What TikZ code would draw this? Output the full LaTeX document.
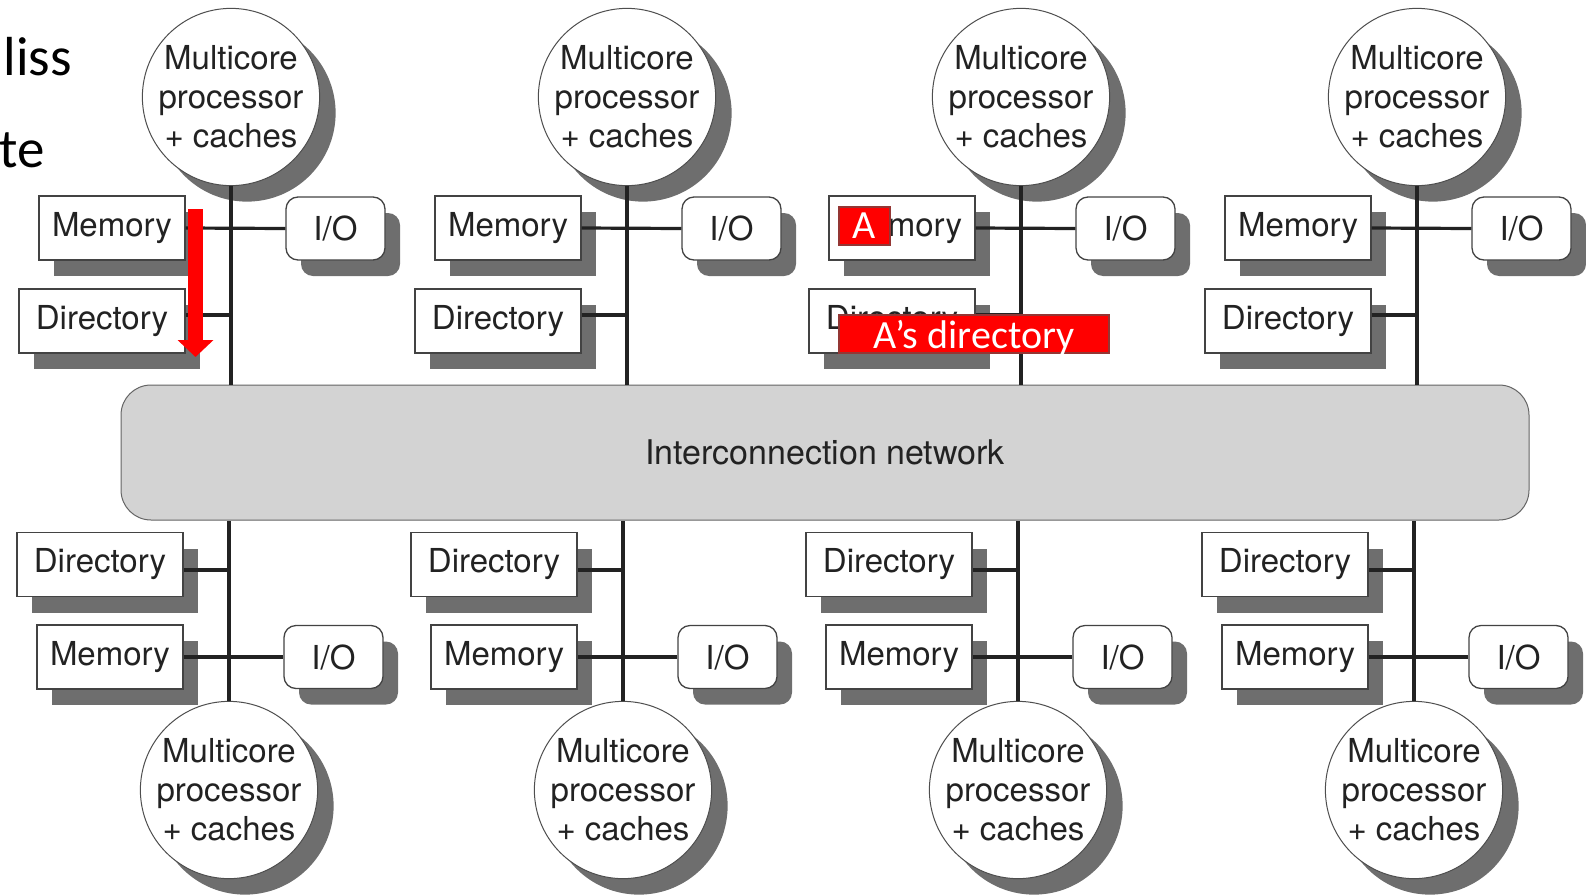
\documentclass[tikz,border=0pt]{standalone}
\usepackage{fontspec}
\setmainfont{TeX Gyre Heros}
\newfontfamily\calibrifont{Carlito}
\usetikzlibrary{shadows,arrows.meta,calc}
\definecolor{shg}{HTML}{6E6E6E}
\definecolor{ink}{HTML}{222222}
\definecolor{netg}{HTML}{D3D3D3}
\definecolor{redbord}{HTML}{943634}
\begin{document}
\begin{tikzpicture}[x=1pt,y=-1pt,
  lbl/.style={font=\fontsize{33}{39}\selectfont, text=ink},
  sqbox/.style={lbl, rectangle, draw=ink!85, line width=1.3pt, fill=white,
    minimum height=64pt, inner sep=0pt,
    drop shadow={shadow xshift=15pt,shadow yshift=-16pt,fill=shg,opacity=1}},
  membox/.style={sqbox, minimum width=146pt},
  dirbox/.style={sqbox, minimum width=166pt},
  iobox/.style={sqbox, rounded corners=12pt, minimum width=99pt, minimum height=63pt},
  proc/.style={lbl, circle, draw=ink!80, line width=1pt, fill=white,
    minimum size=176pt, inner sep=0pt, align=center,
    drop shadow={shadow xshift=16pt,shadow yshift=-16pt,fill=shg,opacity=1}},
  netbox/.style={rectangle, rounded corners=30pt, fill=netg, draw=ink!70, line width=1pt,
    minimum width=1408pt, minimum height=135pt, inner sep=0pt,
    font=\fontsize{34}{40}\selectfont, text=ink},
  bus/.style={draw=ink, line width=3.2pt},
  redlbl/.style={rectangle, fill=red, draw=redbord, line width=2.5pt, text=white,
    inner sep=0pt, minimum height=38pt, text depth=0pt,
    font=\calibrifont\fontsize{40}{40}\selectfont},
  frag/.style={inner sep=0pt, text=black, font=\calibrifont\fontsize{55}{55}\selectfont},
  redarrow/.style={draw=red, line width=15pt, -{Triangle[width=35pt,length=17pt]}}
]
\useasboundingbox (0,0) rectangle (1586,894);

% slide text fragments
\node[frag, anchor=base east] (f1) at (72,75) {liss};
\node[frag, anchor=base east] (f2) at (45,167) {te};

% interconnection network
\node[netbox] (net) at (825,452.5) {Interconnection network};

% top row
\foreach \i/\X in {1/231,2/627,3/1021,4/1417}{
  \node[proc] (pt\i) at (\X,97) {Multicore\\processor\\+ caches};
  \node[membox] (mt\i) at (\X-119,228) {Memory};
  \node[dirbox] (dt\i) at (\X-129,321) {Directory};
  \node[iobox] (it\i) at (\X+104.5,228.5) {I/O};
  \draw[bus] (pt\i.south) -- (pt\i.south |- net.north);
  \draw[bus] (mt\i.east) -- (it\i.west);
  \draw[bus] ($(dt\i.east)+(0,-6)$) -- ($(dt\i.east -| pt\i.south)+(0,-6)$);
}

% bottom row
\foreach \i/\X in {1/229,2/623,3/1018,4/1414}{
  \node[proc] (pb\i) at (\X,790) {Multicore\\processor\\+ caches};
  \node[dirbox] (db\i) at (\X-129,564.5) {Directory};
  \node[membox] (mb\i) at (\X-119,657) {Memory};
  \node[iobox] (ib\i) at (\X+104.5,657) {I/O};
  \draw[bus] (pb\i.north) -- (pb\i.north |- net.south);
  \draw[bus] (mb\i.east) -- (ib\i.west);
  \draw[bus] ($(db\i.east)+(0,5.5)$) -- ($(db\i.east -| pb\i.north)+(0,5.5)$);
}

% red annotations
\node[redlbl, minimum width=51pt] (abox) at (864.5,226) {A};
\node[redlbl, minimum width=270pt] (adir) at (974,334) {A’s directory};
\coordinate (ra) at (195.5,209);
\coordinate (rb) at (195.5,357);
\draw[redarrow] (ra) -- (rb);
\end{tikzpicture}
\end{document}
